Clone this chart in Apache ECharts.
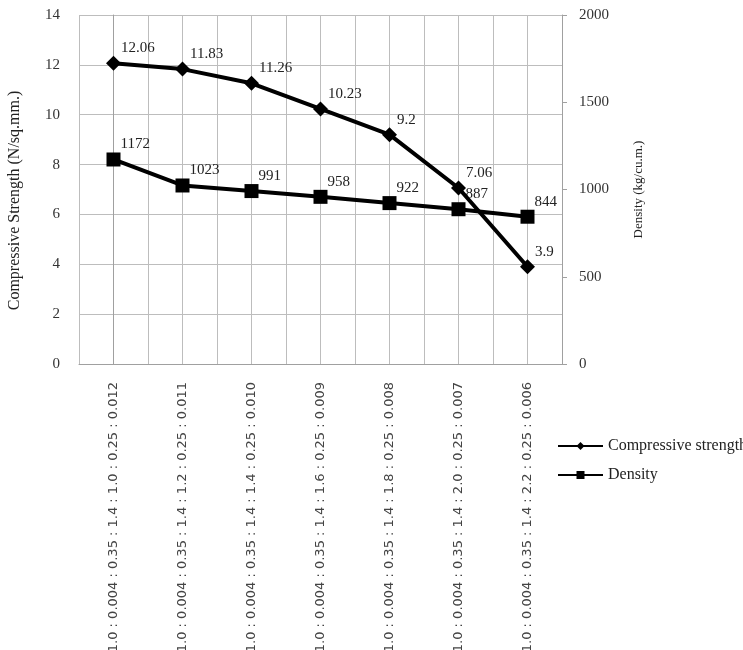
<!DOCTYPE html>
<html>
<head>
<meta charset="utf-8">
<script src="https://cdn.jsdelivr.net/npm/echarts@6/dist/echarts.min.js"></script>
<style>
html,body{margin:0;padding:0;background:#fff;}
#chart{width:743px;height:650px;}
</style>
</head>
<body>
<div id="chart"></div>
<script>
const categories = [
  "1.0 : 0.004 : 0.35 : 1.4 : 1.0 : 0.25 : 0.012",
  "1.0 : 0.004 : 0.35 : 1.4 : 1.2 : 0.25 : 0.011",
  "1.0 : 0.004 : 0.35 : 1.4 : 1.4 : 0.25 : 0.010",
  "1.0 : 0.004 : 0.35 : 1.4 : 1.6 : 0.25 : 0.009",
  "1.0 : 0.004 : 0.35 : 1.4 : 1.8 : 0.25 : 0.008",
  "1.0 : 0.004 : 0.35 : 1.4 : 2.0 : 0.25 : 0.007",
  "1.0 : 0.004 : 0.35 : 1.4 : 2.2 : 0.25 : 0.006"
];
const compressiveStrength = [12.06, 11.83, 11.26, 10.23, 9.2, 7.06, 3.9];
const density = [1172, 1023, 991, 958, 922, 887, 844];
const leftTicks = {min: 0, max: 14, interval: 2};
const rightTicks = {min: 0, max: 2000, interval: 500};

const serif = '"Liberation Serif", "DejaVu Serif", serif';
const gridColor = '#bdbdbd';
const axisColor = '#a0a0a0';

const chart = echarts.init(document.getElementById('chart'), null, {renderer: 'canvas'});
const labelStyle = {
  show: true, position: 'right', distance: 5, offset: [-5, -15],
  fontFamily: serif, fontSize: 15, color: '#222'
};
chart.setOption({
  animation: false,
  backgroundColor: '#fff',
  grid: {left: 79, right: 181, top: 15, bottom: 286, containLabel: false, outerBoundsMode: 'none'},
  legend: {
    orient: 'vertical', left: 557, top: 438, padding: 0, itemGap: 13,
    itemWidth: 45, itemHeight: 10,
    textStyle: {fontFamily: serif, fontSize: 16, color: '#222'},
    data: ['Compressive strength', 'Density']
  },
  xAxis: [
    {
      type: 'category', data: categories, boundaryGap: true, position: 'bottom',
      axisLine: {lineStyle: {color: axisColor, width: 1}},
      axisTick: {alignWithLabel: true, length: 4, lineStyle: {color: axisColor}},
      axisLabel: {rotate: 90, margin: 18, fontFamily: '"DejaVu Sans", sans-serif', fontSize: 13, color: '#444', interval: 0},
      splitLine: {show: false}
    },
    {
      type: 'value', min: -0.5, max: 6.5, interval: 0.5, position: 'bottom',
      axisLine: {show: false}, axisTick: {show: false}, axisLabel: {show: false},
      splitLine: {show: true, lineStyle: {color: gridColor, width: 1}}
    }
  ],
  yAxis: [
    {
      type: 'value', min: leftTicks.min, max: leftTicks.max, interval: leftTicks.interval, position: 'left',
      name: 'Compressive Strength (N/sq.mm.)', nameLocation: 'middle', nameRotate: 90, nameGap: 56,
      nameTextStyle: {fontFamily: serif, fontSize: 16, color: '#222', padding: [0, 22, 0, 0]},
      axisLine: {show: true, lineStyle: {color: axisColor}},
      axisTick: {show: false},
      axisLabel: {margin: 19, fontFamily: serif, fontSize: 15, color: '#333'},
      splitLine: {show: true, lineStyle: {color: gridColor, width: 1}}
    },
    {
      type: 'value', min: rightTicks.min, max: rightTicks.max, interval: rightTicks.interval, position: 'right',
      name: 'Density (kg/cu.m.)', nameLocation: 'middle', nameRotate: 90, nameGap: 70,
      nameTextStyle: {fontFamily: serif, fontSize: 13, color: '#222'},
      axisLine: {show: true, lineStyle: {color: axisColor}},
      axisTick: {show: true, inside: false, length: 5, lineStyle: {color: axisColor}},
      axisLabel: {margin: 17, fontFamily: serif, fontSize: 15, color: '#333', formatter: v => String(v)},
      splitLine: {show: false}
    }
  ],
  series: [
    {
      name: 'Compressive strength', type: 'line', xAxisIndex: 0, yAxisIndex: 0,
      data: compressiveStrength,
      symbol: 'diamond', symbolSize: 15,
      lineStyle: {color: '#000', width: 4},
      itemStyle: {color: '#000'},
      label: labelStyle, z: 3
    },
    {
      name: 'Density', type: 'line', xAxisIndex: 0, yAxisIndex: 1,
      data: density,
      symbol: 'rect', symbolSize: 14,
      lineStyle: {color: '#000', width: 4},
      itemStyle: {color: '#000'},
      label: labelStyle, z: 2
    }
  ]
});
</script>
</body>
</html>
